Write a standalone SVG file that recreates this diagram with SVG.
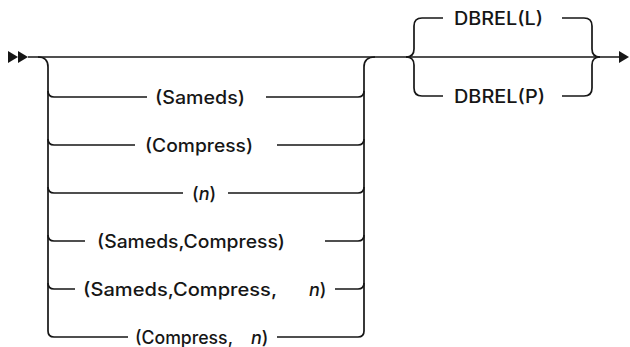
<svg xmlns="http://www.w3.org/2000/svg" width="630" height="347" viewBox="0 0 630 347">
<style>
.c{fill:none;stroke:#161616;stroke-width:1.7}
.h{fill:#161616}
text{font-family:Inter,"Noto Sans",sans-serif;font-size:18px;font-weight:500;fill:#161616}
.i{font-style:italic}
</style>
<rect width="630" height="347" fill="#fff"/>
<g id="connectors">
<polygon class="h" points="8,51 18,57 8,63"/>
<polygon class="h" points="18,51 28,57 18,63"/>
<path class="c" d="M28 57 H620"/>
<polygon class="h" points="619,51 629,57 619,63"/>
<path class="c" d="M38 57 Q48 57 48 67 V331 Q48 337 54 337 H128"/>
<path class="c" d="M48 91 Q48 97 54 97 H147"/>
<path class="c" d="M48 139 Q48 145 54 145 H135"/>
<path class="c" d="M48 187 Q48 193 54 193 H183"/>
<path class="c" d="M48 235 Q48 241 54 241 H85"/>
<path class="c" d="M48 283 Q48 289 54 289 H75"/>
<path class="c" d="M375 57 Q364 57 364 67 V331 Q364 337 358 337 H277"/>
<path class="c" d="M266 97 H358 Q364 97 364 91"/>
<path class="c" d="M277 145 H358 Q364 145 364 139"/>
<path class="c" d="M228 193 H358 Q364 193 364 187"/>
<path class="c" d="M325 241 H358 Q364 241 364 235"/>
<path class="c" d="M335 289 H358 Q364 289 364 283"/>
<path class="c" d="M406 57 Q414 57 414 49 V26 Q414 18 422 18 H443"/>
<path class="c" d="M406 57 Q414 57 414 65 V88 Q414 96 422 96 H443"/>
<path class="c" d="M562 18 H584 Q592 18 592 26 V49 Q592 57 600 57"/>
<path class="c" d="M562 96 H584 Q592 96 592 88 V65 Q592 57 600 57"/>
</g>
<g id="n-sameds"><text x="155" y="104" textLength="90" lengthAdjust="spacingAndGlyphs">(Sameds)</text></g>
<g id="n-compress"><text x="145" y="152" textLength="108" lengthAdjust="spacingAndGlyphs">(Compress)</text></g>
<g id="n-n"><text x="192" y="200">(<tspan class="i">n</tspan>)</text></g>
<g id="n-sameds-compress"><text x="97" y="248" textLength="188" lengthAdjust="spacingAndGlyphs">(Sameds,Compress)</text></g>
<g id="n-sameds-compress-n"><text x="83" y="296" textLength="194" lengthAdjust="spacingAndGlyphs">(Sameds,Compress,</text><text x="309" y="296"><tspan class="i">n</tspan>)</text></g>
<g id="n-compress-n"><text x="135" y="344" textLength="98" lengthAdjust="spacingAndGlyphs">(Compress,</text><text x="251" y="344"><tspan class="i">n</tspan>)</text></g>
<g id="n-dbrel-l"><text x="454" y="25" textLength="89" lengthAdjust="spacingAndGlyphs">DBREL(L)</text></g>
<g id="n-dbrel-p"><text x="454" y="103" textLength="91" lengthAdjust="spacingAndGlyphs">DBREL(P)</text></g>
</svg>
